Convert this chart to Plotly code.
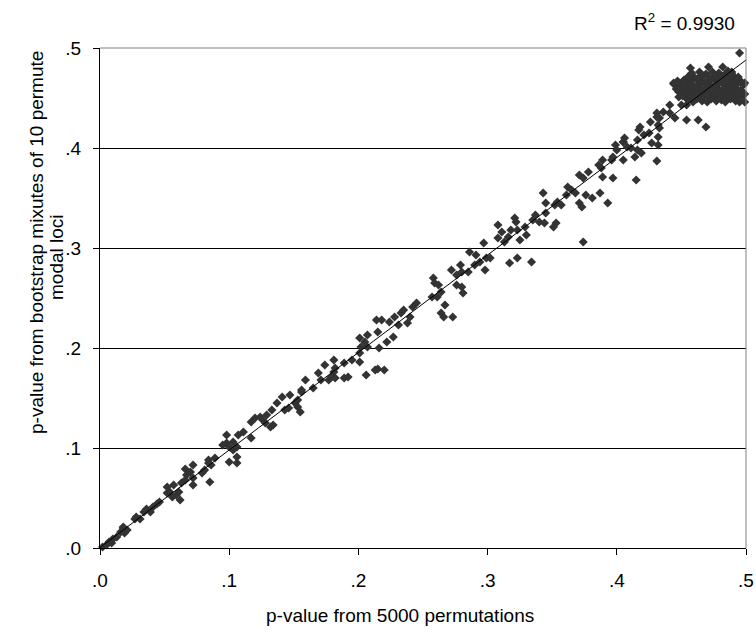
import plotly.graph_objects as go

# ---- data ----
# low range (x 0 - 0.12)
x_low = [0.002, 0.005, 0.007, 0.010, 0.009, 0.013, 0.016, 0.018, 0.019, 0.021, 0.018,
         0.027, 0.028, 0.031, 0.034, 0.036, 0.039, 0.041, 0.044, 0.046, 0.052, 0.054,
         0.052, 0.057, 0.056, 0.059, 0.062, 0.061, 0.063, 0.066, 0.067, 0.066, 0.072,
         0.070, 0.072, 0.072, 0.079, 0.081, 0.084, 0.085, 0.084, 0.086, 0.089, 0.095,
         0.098, 0.100, 0.103, 0.106, 0.100, 0.106, 0.106, 0.098, 0.107, 0.111, 0.103]
y_low = [0.001, 0.003, 0.006, 0.009, 0.005, 0.011, 0.016, 0.020, 0.015, 0.018, 0.021,
         0.029, 0.031, 0.029, 0.036, 0.039, 0.036, 0.041, 0.044, 0.046, 0.055, 0.056,
         0.061, 0.063, 0.051, 0.053, 0.048, 0.056, 0.065, 0.068, 0.073, 0.079, 0.083,
         0.076, 0.070, 0.063, 0.075, 0.078, 0.085, 0.066, 0.088, 0.083, 0.090, 0.103,
         0.105, 0.101, 0.098, 0.101, 0.086, 0.085, 0.091, 0.113, 0.113, 0.116, 0.106]

# middle range (x 0.12 - 0.25)
x_mid = [0.117, 0.117, 0.120, 0.124, 0.126, 0.129, 0.128, 0.132, 0.134, 0.133, 0.137,
         0.141, 0.143, 0.146, 0.147, 0.151, 0.153, 0.155, 0.153, 0.156, 0.156, 0.159,
         0.165, 0.169, 0.171, 0.174, 0.177, 0.179, 0.181, 0.182, 0.181, 0.182, 0.189,
         0.192, 0.189, 0.195, 0.201, 0.201, 0.202, 0.201, 0.205, 0.207, 0.206, 0.207,
         0.213, 0.215, 0.220, 0.214, 0.218, 0.215, 0.216, 0.222, 0.224, 0.227, 0.228,
         0.231, 0.233, 0.235, 0.238, 0.240, 0.242, 0.245]
y_mid = [0.110, 0.126, 0.130, 0.131, 0.128, 0.133, 0.125, 0.121, 0.123, 0.138, 0.145,
         0.151, 0.138, 0.140, 0.153, 0.145, 0.141, 0.136, 0.148, 0.156, 0.158, 0.168,
         0.160, 0.175, 0.168, 0.183, 0.168, 0.171, 0.176, 0.170, 0.188, 0.180, 0.170,
         0.171, 0.185, 0.188, 0.186, 0.195, 0.201, 0.210, 0.206, 0.201, 0.173, 0.213,
         0.178, 0.179, 0.178, 0.228, 0.228, 0.216, 0.200, 0.206, 0.226, 0.211, 0.231,
         0.223, 0.235, 0.238, 0.225, 0.231, 0.241, 0.245]

# upper range (x 0.25 - 0.375)
x_up = [0.258, 0.259, 0.262, 0.257, 0.261, 0.264, 0.267, 0.264, 0.266, 0.273, 0.272,
        0.276, 0.279, 0.280, 0.276, 0.280, 0.281, 0.285, 0.286, 0.290, 0.291, 0.294,
        0.297, 0.298, 0.299, 0.302, 0.308, 0.308, 0.311, 0.313, 0.316, 0.317, 0.318,
        0.321, 0.322, 0.323, 0.323, 0.325, 0.329, 0.330, 0.334, 0.335, 0.337, 0.340,
        0.343, 0.344, 0.345, 0.345, 0.351, 0.352, 0.353, 0.354, 0.357, 0.361, 0.362,
        0.365, 0.368, 0.371, 0.373, 0.374, 0.371, 0.374, 0.376, 0.381, 0.387, 0.393]
y_up = [0.270, 0.265, 0.263, 0.251, 0.251, 0.256, 0.243, 0.235, 0.231, 0.231, 0.278,
        0.273, 0.283, 0.276, 0.263, 0.261, 0.255, 0.276, 0.296, 0.283, 0.293, 0.286,
        0.305, 0.278, 0.290, 0.290, 0.323, 0.310, 0.316, 0.306, 0.311, 0.285, 0.318,
        0.330, 0.326, 0.290, 0.318, 0.308, 0.321, 0.313, 0.286, 0.328, 0.333, 0.326,
        0.355, 0.325, 0.345, 0.335, 0.321, 0.343, 0.325, 0.346, 0.343, 0.353, 0.361,
        0.358, 0.355, 0.345, 0.341, 0.306, 0.373, 0.370, 0.353, 0.350, 0.355, 0.345]

# high range (x 0.375 - 0.47), outside the dense cluster
x_high = [0.378, 0.386, 0.388, 0.389, 0.389, 0.396, 0.397, 0.397, 0.399, 0.400, 0.405,
          0.408, 0.411, 0.416, 0.419, 0.414, 0.405, 0.415, 0.406, 0.405, 0.416, 0.421,
          0.425, 0.427, 0.432, 0.432, 0.417, 0.418, 0.426, 0.433, 0.432, 0.431, 0.436,
          0.431, 0.433, 0.441, 0.441, 0.445, 0.448, 0.444, 0.450, 0.454, 0.454, 0.463,
          0.469, 0.431]
y_high = [0.376, 0.383, 0.380, 0.388, 0.371, 0.388, 0.391, 0.370, 0.403, 0.398, 0.406,
          0.401, 0.400, 0.398, 0.395, 0.391, 0.388, 0.368, 0.410, 0.406, 0.408, 0.413,
          0.415, 0.405, 0.403, 0.411, 0.418, 0.421, 0.426, 0.420, 0.423, 0.431, 0.436,
          0.435, 0.430, 0.435, 0.443, 0.430, 0.451, 0.465, 0.443, 0.443, 0.428, 0.428,
          0.421, 0.387]

# dense cluster near (0.47, 0.46)
x_clu = [0.455, 0.459, 0.462, 0.466, 0.470, 0.473, 0.477, 0.481, 0.484, 0.488, 0.492, 0.495,
         0.451, 0.454, 0.458, 0.461, 0.465, 0.468, 0.472, 0.475, 0.479, 0.482, 0.486, 0.489, 0.493, 0.497,
         0.448, 0.452, 0.456, 0.459, 0.463, 0.466, 0.470, 0.474, 0.477, 0.481, 0.484, 0.488, 0.491, 0.495, 0.499,
         0.446, 0.450, 0.453, 0.457, 0.460, 0.464, 0.467, 0.471, 0.474, 0.478, 0.482, 0.485, 0.489, 0.492, 0.496,
         0.444, 0.448, 0.451, 0.455, 0.458, 0.462, 0.465, 0.469, 0.472, 0.476, 0.479, 0.483, 0.487, 0.490, 0.494, 0.498,
         0.447, 0.452, 0.456, 0.459, 0.463, 0.466, 0.470, 0.473, 0.477, 0.480, 0.484, 0.487, 0.491, 0.495,
         0.455, 0.459, 0.463, 0.467, 0.471, 0.475, 0.478, 0.482, 0.486, 0.490, 0.494,
         0.458, 0.464, 0.469, 0.474, 0.479, 0.484, 0.489,
         0.457, 0.471, 0.482, 0.495, 0.499, 0.499, 0.486, 0.489]
y_clu = [0.448, 0.446, 0.449, 0.447, 0.446, 0.449, 0.447, 0.448, 0.446, 0.449, 0.447, 0.446,
         0.452, 0.450, 0.451, 0.453, 0.450, 0.452, 0.451, 0.453, 0.450, 0.452, 0.451, 0.453, 0.450, 0.452,
         0.456, 0.455, 0.454, 0.457, 0.455, 0.456, 0.454, 0.457, 0.455, 0.456, 0.454, 0.457, 0.455, 0.456, 0.454,
         0.459, 0.460, 0.458, 0.461, 0.459, 0.460, 0.458, 0.461, 0.459, 0.460, 0.458, 0.461, 0.459, 0.460, 0.458,
         0.464, 0.462, 0.465, 0.463, 0.464, 0.462, 0.465, 0.463, 0.464, 0.462, 0.465, 0.463, 0.464, 0.462, 0.465, 0.463,
         0.467, 0.468, 0.466, 0.469, 0.467, 0.468, 0.466, 0.469, 0.467, 0.468, 0.466, 0.469, 0.467, 0.468,
         0.471, 0.472, 0.470, 0.472, 0.471, 0.470, 0.472, 0.471, 0.470, 0.472, 0.471,
         0.475, 0.476, 0.474, 0.476, 0.475, 0.474, 0.476,
         0.480, 0.481, 0.481, 0.495, 0.446, 0.465, 0.477, 0.474]

# linear trend line
trend_x = [0.0, 0.5]
trend_slope = 0.975
trend_intercept = 0.0005
r2_text = "R<sup>2</sup> = 0.9930"

tick_vals = [0.0, 0.1, 0.2, 0.3, 0.4, 0.5]
tick_text = [".0", ".1", ".2", ".3", ".4", ".5"]

x_all = x_low + x_mid + x_up + x_high + x_clu
y_all = y_low + y_mid + y_up + y_high + y_clu
trend_y = [trend_intercept + trend_slope * v for v in trend_x]

FONT = "Liberation Sans, Arial, sans-serif"

fig = go.Figure()
fig.add_trace(go.Scatter(x=x_all, y=y_all, mode="markers",
                         marker=dict(symbol="diamond", size=7, color="#333333",
                                     line=dict(width=0)),
                         showlegend=False, cliponaxis=False))
fig.add_trace(go.Scatter(x=trend_x, y=trend_y, mode="lines",
                         line=dict(color="black", width=1), showlegend=False))

W, H = 756, 635
L, R, T, B = 100, 10, 48, 87
pw, ph = W - L - R, H - T - B

def px(xp):
    return (xp - L) / pw

def py(yp):
    return (H - B - yp) / ph

fig.update_layout(
    width=W, height=H,
    margin=dict(l=L, r=R, t=T, b=B, autoexpand=False),
    paper_bgcolor="white", plot_bgcolor="white",
    font=dict(family=FONT, size=19, color="black"),
    xaxis=dict(range=[0, 0.5], tickvals=tick_vals, ticktext=tick_text,
               showgrid=False, zeroline=False, showline=True, linecolor="black",
               linewidth=1, ticks="outside", ticklen=6, tickcolor="black",
               ticklabelstandoff=9, tickfont=dict(size=19), automargin=False),
    yaxis=dict(range=[0, 0.5], tickvals=tick_vals, ticktext=tick_text,
               showgrid=True, gridcolor="black", gridwidth=1, zeroline=False,
               showline=True, linecolor="black", linewidth=1, ticks="outside",
               ticklen=6, tickcolor="black", ticklabelstandoff=8,
               tickfont=dict(size=19), automargin=False),
    shapes=[
        dict(type="line", xref="paper", yref="paper", x0=0, x1=1, y0=1, y1=1,
             line=dict(color="#808080", width=1), layer="above"),
        dict(type="line", xref="paper", yref="paper", x0=1, x1=1, y0=0, y1=1,
             line=dict(color="#808080", width=1), layer="above"),
    ],
    annotations=[
        dict(text=r2_text, xref="paper", yref="paper", x=px(737), y=py(22),
             xanchor="right", yanchor="middle", showarrow=False,
             font=dict(size=19)),
        dict(text="p-value from 5000 permutations", xref="paper", yref="paper",
             x=px(400), y=py(615), xanchor="center", yanchor="middle",
             showarrow=False, font=dict(size=19)),
        dict(text="p-value from bootstrap mixutes of 10 permute", xref="paper",
             yref="paper", x=px(36), y=py(243), xanchor="center", yanchor="middle",
             textangle=-90, showarrow=False, font=dict(size=19)),
        dict(text="modal loci", xref="paper", yref="paper", x=px(56), y=py(257),
             xanchor="center", yanchor="middle", textangle=-90, showarrow=False,
             font=dict(size=19)),
    ],
)

fig.write_html("out.html")
